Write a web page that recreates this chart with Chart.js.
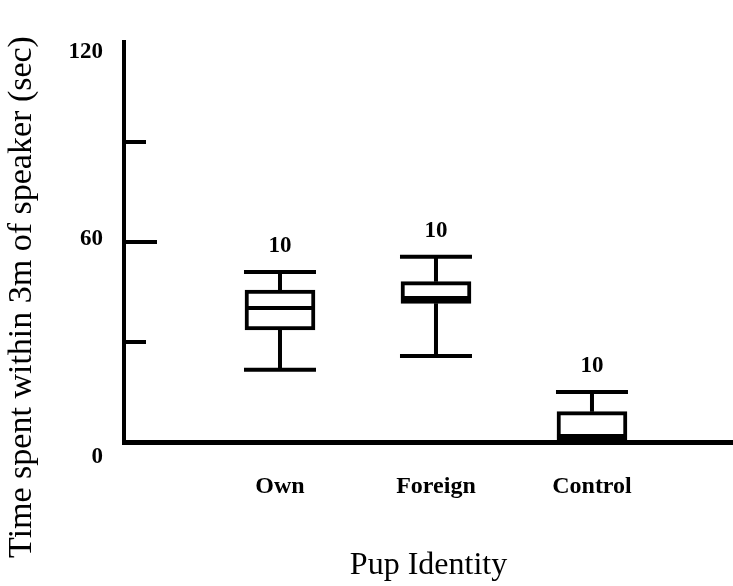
<!DOCTYPE html>
<html><head><meta charset="utf-8">
<script src="https://cdn.jsdelivr.net/npm/chart.js@4.4.1/dist/chart.umd.min.js"></script>
<style>html,body{margin:0;padding:0;background:#fff;} canvas{display:block;}</style>
</head><body>
<canvas id="c" width="733" height="586"></canvas>
<script>
// ---- data ----
const categories = ['Own', 'Foreign', 'Control'];
const categoryPositions = [1, 2, 3];
const whiskerLow = [21.7, 25.8, 0];
const quartile1 = [33.6, 41.6, 0.6];
const medians = [40.2, 43.2, 1.8];
const quartile3 = [45.6, 48.1, 9.1];
const whiskerHigh = [51.0, 55.6, 15.0];
const sampleSizes = [10, 10, 10];
const yTickLabels = [0, 60, 120];
const yMajorTicks = [60];
const yMinorTicks = [30, 90];
const yAxisTitle = 'Time spent within 3m of speaker (sec)';
const xAxisTitle = 'Pup Identity';

const SERIF = "'Liberation Serif', 'Times New Roman', serif";

const boxPlugin = {
  id: 'boxExtras',
  afterDatasetsDraw(chart) {
    const {ctx, scales: {x, y}} = chart;
    const halfBox = 35, halfCap = 36;
    ctx.save();
    ctx.strokeStyle = '#000';
    ctx.fillStyle = '#000';
    ctx.lineWidth = 4;
    ctx.lineCap = 'butt';
    categoryPositions.forEach((pos, i) => {
      const cx = x.getPixelForValue(pos);
      const pLow = y.getPixelForValue(whiskerLow[i]);
      const pQ1 = y.getPixelForValue(quartile1[i]);
      const pMed = y.getPixelForValue(medians[i]);
      const pQ3 = y.getPixelForValue(quartile3[i]);
      const pHigh = y.getPixelForValue(whiskerHigh[i]);
      ctx.beginPath();
      ctx.moveTo(cx, pQ3); ctx.lineTo(cx, pHigh);
      ctx.moveTo(cx, pQ1); ctx.lineTo(cx, pLow);
      ctx.moveTo(cx - halfCap, pHigh); ctx.lineTo(cx + halfCap, pHigh);
      ctx.moveTo(cx - halfCap, pLow); ctx.lineTo(cx + halfCap, pLow);
      ctx.moveTo(cx - halfBox, pMed); ctx.lineTo(cx + halfBox, pMed);
      ctx.stroke();
      ctx.font = 'bold 23px ' + SERIF;
      ctx.textAlign = 'center';
      ctx.textBaseline = 'middle';
      ctx.fillText(String(sampleSizes[i]), cx, pHigh - 26);
    });
    ctx.restore();
  },
  afterDraw(chart) {
    const {ctx, scales: {y}, chartArea} = chart;
    const ax = chartArea.left;
    ctx.save();
    ctx.strokeStyle = '#000';
    ctx.fillStyle = '#000';
    ctx.lineWidth = 4;
    ctx.beginPath();
    yMajorTicks.forEach(v => { const p = y.getPixelForValue(v); ctx.moveTo(ax, p); ctx.lineTo(ax + 33, p); });
    yMinorTicks.forEach(v => { const p = y.getPixelForValue(v); ctx.moveTo(ax, p); ctx.lineTo(ax + 22, p); });
    ctx.stroke();
    ctx.font = 'bold 23px ' + SERIF;
    ctx.textAlign = 'right';
    ctx.textBaseline = 'middle';
    yTickLabels.forEach(v => {
      const p = y.getPixelForValue(v);
      const dy = v === y.min ? 15 : (v === y.max ? 10 : -3);
      ctx.fillText(String(v), ax - 21, p + dy);
    });
    ctx.translate(22, 297);
    ctx.rotate(-Math.PI / 2);
    ctx.font = '34px ' + SERIF;
    ctx.textAlign = 'center';
    ctx.fillText(yAxisTitle, 0, 0);
    ctx.restore();
  }
};

new Chart(document.getElementById('c'), {
  type: 'bar',
  data: {
    datasets: [{
      data: categoryPositions.map((p, i) => ({x: p, y: [quartile1[i], quartile3[i]]})),
      backgroundColor: '#fff',
      borderColor: '#000',
      borderWidth: 4,
      borderSkipped: false,
      barThickness: 70
    }]
  },
  options: {
    responsive: false,
    animation: false,
    events: [],
    layout: {padding: {top: 42, left: 0, right: 0, bottom: 0}},
    plugins: {legend: {display: false}, tooltip: {enabled: false}},
    scales: {
      x: {
        type: 'linear',
        min: 0,
        max: 3.904,
        offset: false,
        afterFit: s => { s.height = 144; },
        afterBuildTicks: s => { s.ticks = categoryPositions.map(v => ({value: v})); },
        grid: {display: false, drawTicks: false},
        border: {display: true, color: '#000', width: 5},
        ticks: {
          color: '#000',
          padding: 30,
          maxRotation: 0,
          font: {family: SERIF, size: 24, weight: 'bold'},
          callback: v => { const i = categoryPositions.indexOf(v); return i >= 0 ? categories[i] : ''; }
        },
        title: {
          display: true,
          text: xAxisTitle,
          color: '#000',
          font: {family: SERIF, size: 32, weight: 'normal'},
          padding: {top: 0, bottom: 1}
        }
      },
      y: {
        type: 'linear',
        min: 0,
        max: 120,
        afterFit: s => { s.width = 124; },
        grid: {display: false, drawTicks: false},
        border: {display: true, color: '#000', width: 4},
        ticks: {display: false}
      }
    }
  },
  plugins: [boxPlugin]
});
</script>
</body></html>
